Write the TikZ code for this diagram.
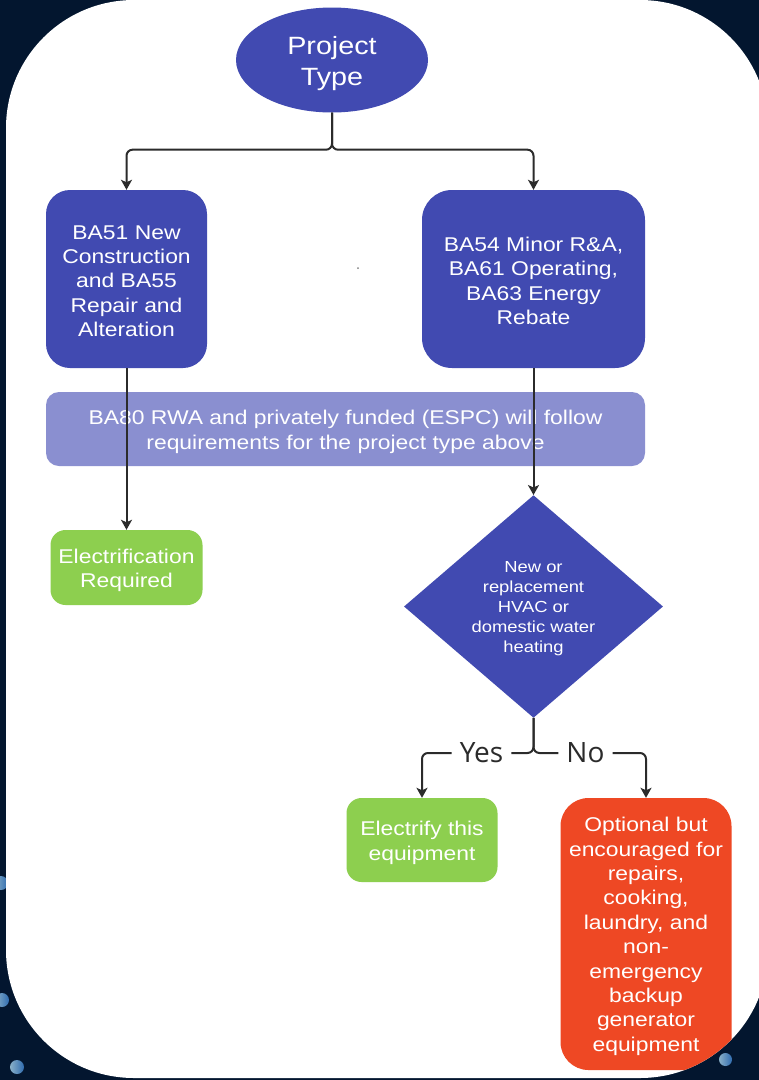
\documentclass[tikz,border=0pt]{standalone}
\usepackage{fontspec}
\setmainfont{Liberation Sans}[FakeStretch=1.15]
\newfontfamily\yesnofont{Open Sans}
\usepackage{xcolor}
\usepackage{tikz}
\usetikzlibrary{positioning}
\usetikzlibrary{shapes.geometric}
\usetikzlibrary{arrows.meta}
\definecolor{navybg}{HTML}{03162F}
\definecolor{boxblue}{HTML}{414AB1}
\definecolor{bandblue}{HTML}{8A8FD0}
\definecolor{boxgreen}{HTML}{8DCF4F}
\definecolor{boxred}{HTML}{EE4824}
\definecolor{linegray}{HTML}{2B2B2B}
\definecolor{dotlight}{HTML}{8AB0C8}
\definecolor{dotdark}{HTML}{2F6BAF}
\newcommand{\toprule}[1]{\rule{0pt}{#1}}
\tikzset{%
  every box/.style={
    rectangle,
    rounded corners=24pt,
    text=white,
    align=center,
    inner sep=0pt,
    font=\fontsize{19.9pt}{24.4pt}\selectfont
  },
  blue box/.style={
    every box,
    fill=boxblue
  },
  green box/.style={
    every box,
    rounded corners=15pt,
    fill=boxgreen
  },
  red box/.style={
    every box,
    rounded corners=28pt,
    fill=boxred
  },
  flow line/.style={
    draw=linegray,
    line width=2pt,
    rounded corners=6pt
  },
  flow arrow/.style={
    flow line,
    -{Stealth[length=10pt,width=11pt,inset=2.5pt]}
  },
  yesno/.style={
    inner xsep=8pt,
    inner ysep=0pt,
    text=linegray,
    font=\yesnofont\fontsize{28pt}{30pt}\selectfont
  },
}

\begin{document}
\begin{tikzpicture}[x=1pt,y=-1pt]
          \useasboundingbox (0,0) rectangle (759,1080);
          \fill[navybg] (0,0) rectangle (759,1080);
          \foreach \dx/\dy/\r in {1/883/7, 2/1000/7, 17/1067/7, 725.5/1059.5/6.5} {
              \shade[left color=dotlight, right color=dotdark] (\dx,\dy) circle (\r);
          }
          \fill[white, rounded corners=128pt] (6,0) rectangle (768,1078);
          \begin{scope}
          \clip[rounded corners=128pt] (6,0) rectangle (768,1078);
          \node[ellipse, fill=boxblue, text=white, align=center, inner sep=0pt,
                minimum width=192pt, minimum height=105pt,
                font=\fontsize{25pt}{31pt}\selectfont] (type) at (332,60) {\toprule{25.5pt}Project\\Type};
          \node[blue box, minimum width=161pt, minimum height=178pt] (newcon) at (126.5,279)
              {\toprule{18pt}BA51 New\\Construction\\and BA55\\Repair and\\Alteration};
          \node[blue box, rounded corners=30pt, minimum width=223pt, minimum height=178pt] (minor) at (533.5,279)
              {\toprule{18pt}BA54 Minor R\&A,\\BA61 Operating,\\BA63 Energy\\Rebate};
          \node[every box, rounded corners=13pt, fill=bandblue, minimum width=599pt, minimum height=74pt] (band) at (345.5,429)
              {\toprule{20pt}BA80 RWA and privately funded (ESPC) will follow\\requirements for the project type above};
          \node[green box, minimum width=152pt, minimum height=75pt] (elreq) at (126.5,567.5)
              {\toprule{20pt}Electrification\\Required};
          \node[diamond, fill=boxblue, text=white, align=center, inner sep=0pt,
                minimum width=259pt, minimum height=199pt,
                font=\fontsize{16pt}{20pt}\selectfont] (dia) at (533.5,606.5)
              {\toprule{15.5pt}New or\\replacement\\HVAC or\\domestic water\\heating};
          \node[green box, minimum width=151pt, minimum height=84pt] (elthis) at (422,840)
              {\toprule{20pt}Electrify this\\equipment};
          \node[red box, minimum width=171pt, minimum height=272pt] (optional) at (646,934)
              {\toprule{19pt}Optional but\\encouraged for\\repairs,\\cooking,\\laundry, and\\non-\\emergency\\backup\\generator\\equipment};
          \node[yesno] (yes) at (481.5,753) {Yes};
          \node[yesno] (no) at (585.5,753) {No};
          \fill[gray] (358,268) circle (1);
          \draw[flow arrow] (type.south) -- ++(0,37) -| (newcon.north);
          \draw[flow arrow] (type.south) -- ++(0,37) -| (minor.north);
          \draw[flow arrow] (newcon.south) -- (elreq.north);
          \draw[flow arrow] (minor.south) -- (dia.north);
          \draw[flow line] (dia.south) |- (yes);
          \draw[flow line] (dia.south) |- (no);
          \draw[flow arrow] (yes) -| (elthis.north);
          \draw[flow arrow] (no) -| (optional.north);
          \end{scope}
          \end{tikzpicture}
\end{document}
